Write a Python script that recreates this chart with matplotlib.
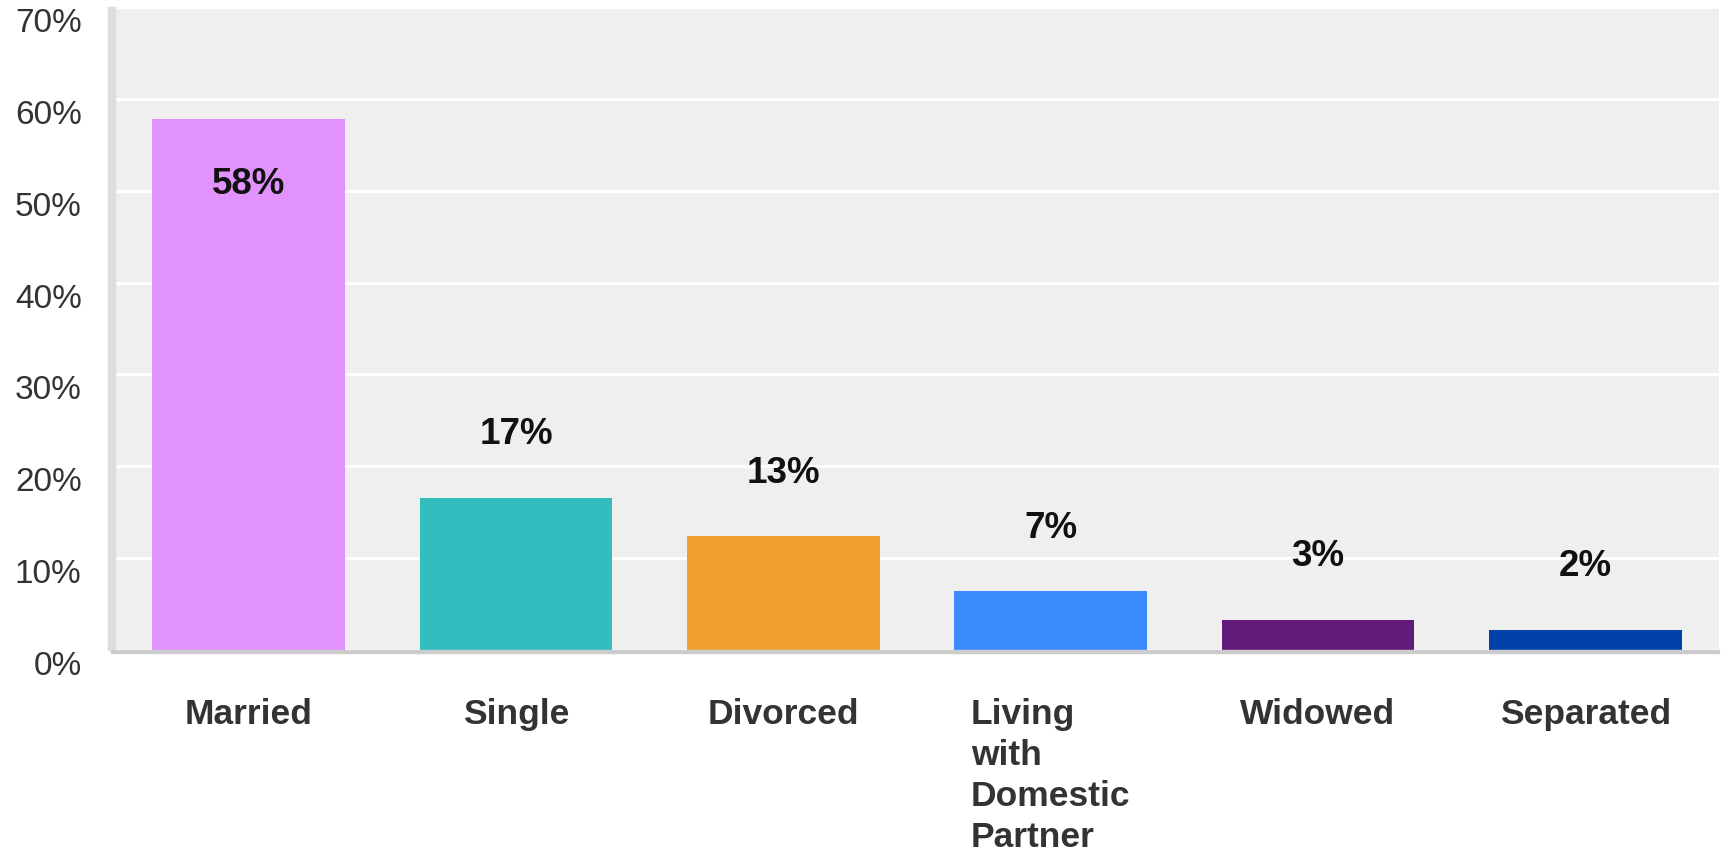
import matplotlib
matplotlib.use("Agg")
import matplotlib.pyplot as plt
from matplotlib.patches import Rectangle

# data
categories = ["Married", "Single", "Divorced", "Living\nwith\nDomestic\nPartner", "Widowed", "Separated"]
values = [57.8, 16.6, 12.4, 6.4, 3.3, 2.2]
value_labels = ["58%", "17%", "13%", "7%", "3%", "2%"]
colors = ["#e292fc", "#33bdbf", "#f0a030", "#3b8bff", "#621b7a", "#0041a8"]
yticks = [0, 10, 20, 30, 40, 50, 60, 70]

plt.rcParams['font.family'] = ['Liberation Sans', 'DejaVu Sans']

W, H = 1723, 853
fig = plt.figure(figsize=(W / 100, H / 100), dpi=100)
ax = fig.add_axes([115 / W, (H - 651) / H, 1604 / W, 643 / H])
ax.set_facecolor("#efefef")

x = list(range(len(categories)))
ax.bar(x, values, width=0.72, color=colors, zorder=3)

ax.set_xlim(-0.5, len(categories) - 0.5)
ax.set_ylim(0, 70)

# grid
ax.set_yticks(yticks)
ax.set_yticklabels([str(t) + "%" for t in yticks], fontsize=24, color="#333333", va="top")
ax.yaxis.grid(True, color="white", linewidth=2.2, zorder=1)
ax.tick_params(axis="y", length=0, pad=24)

ax.set_xticks(x)
ax.set_xticklabels(categories, fontsize=25.5, fontweight="bold", color="#333333",
                   multialignment="left", linespacing=1.3)
ax.tick_params(axis="x", length=0, pad=34)

for s in ax.spines.values():
    s.set_visible(False)

# value labels
for i, v in enumerate(values):
    off = -64 if v > 50 else 64
    ax.annotate(value_labels[i], (i, v), xytext=(0, off), textcoords="offset pixels",
                ha="center", va="center", fontsize=26.5, fontweight="bold", color="#111111", zorder=4)

# left border strip and bottom axis line
fig.patches.append(Rectangle((108 / W, (H - 651) / H), 7 / W, 643 / H,
                             transform=fig.transFigure, color="#dddddd", zorder=5))
fig.patches.append(Rectangle((111 / W, (H - 654) / H), 1608 / W, 3 / H,
                             transform=fig.transFigure, color="#cccccc", zorder=5))

fig.savefig("out.png", dpi=100)
